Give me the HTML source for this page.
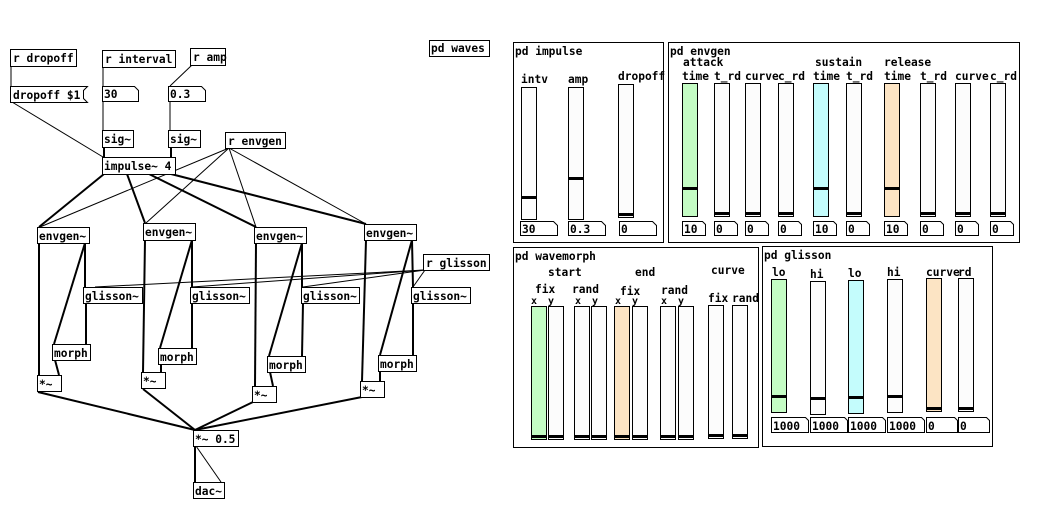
<!DOCTYPE html>
<html><head><meta charset="utf-8"><style>
html,body{margin:0;padding:0;background:#fff;}
svg{display:block;}
text{font-family:"DejaVu Sans Mono","Liberation Mono",monospace;font-weight:bold;font-size:11.2px;fill:#000;}
.b{fill:#fff;stroke:#000;stroke-width:1;}
.s{stroke:#000;stroke-width:2;fill:none;}
.c{stroke:#000;stroke-width:1;fill:none;}
.sl{fill:#fcfcfc;stroke:#000;stroke-width:1;}
</style></head><body>
<svg width="1043" height="515" viewBox="0 0 1043 515" xmlns="http://www.w3.org/2000/svg">
<g class="c">
<line x1="11" y1="66" x2="11" y2="86"/>
<line x1="12" y1="102" x2="103" y2="157"/>
<line x1="103" y1="67" x2="103" y2="86"/>
<line x1="103" y1="101" x2="103" y2="130"/>
<line x1="192" y1="65" x2="170" y2="86"/>
<line x1="170" y1="101" x2="170" y2="130"/>
<line x1="229" y1="148" x2="40" y2="227"/>
<line x1="229" y1="148" x2="146" y2="223"/>
<line x1="229" y1="148" x2="256" y2="227"/>
<line x1="229" y1="148" x2="366" y2="224"/>
<line x1="425" y1="270" x2="95" y2="287"/>
<line x1="425" y1="270" x2="192" y2="287"/>
<line x1="425" y1="270" x2="303" y2="287"/>
<line x1="425" y1="270" x2="413" y2="287"/>
<line x1="196" y1="446" x2="221" y2="482"/>
</g>
<g class="s">
<line x1="104" y1="147" x2="104" y2="157"/>
<line x1="171" y1="147" x2="171" y2="157"/>
<line x1="104" y1="174" x2="39" y2="227"/>
<line x1="127" y1="174" x2="145" y2="223"/>
<line x1="149" y1="174" x2="256" y2="227"/>
<line x1="171" y1="174" x2="366" y2="224"/>
<line x1="39" y1="243" x2="39" y2="375"/>
<line x1="85" y1="243" x2="85" y2="287"/>
<line x1="85" y1="243" x2="54" y2="344"/>
<line x1="86" y1="303" x2="86" y2="344"/>
<line x1="55" y1="360" x2="59" y2="375"/>
<line x1="145" y1="240" x2="143" y2="372"/>
<line x1="192" y1="240" x2="192" y2="287"/>
<line x1="192" y1="240" x2="160" y2="348"/>
<line x1="192" y1="303" x2="192" y2="348"/>
<line x1="161" y1="364" x2="161" y2="372"/>
<line x1="256" y1="243" x2="255" y2="386"/>
<line x1="302" y1="243" x2="302" y2="287"/>
<line x1="302" y1="243" x2="269" y2="356"/>
<line x1="303" y1="303" x2="302" y2="356"/>
<line x1="270" y1="372" x2="273" y2="386"/>
<line x1="366" y1="240" x2="362" y2="381"/>
<line x1="412" y1="240" x2="413" y2="287"/>
<line x1="412" y1="240" x2="380" y2="355"/>
<line x1="413" y1="303" x2="413" y2="355"/>
<line x1="380" y1="371" x2="380" y2="381"/>
<line x1="38" y1="392" x2="195" y2="430"/>
<line x1="143" y1="389" x2="195" y2="430"/>
<line x1="253" y1="402" x2="195" y2="430"/>
<line x1="362" y1="397" x2="195" y2="430"/>
<line x1="195" y1="446" x2="195" y2="482"/>
</g>
<g>
<rect class="b" x="10.5" y="49.5" width="66" height="17"/><text x="13" y="62">r dropoff</text>
<path class="b" d="M10.5 86.5H87.5L83.5 90.5V98.5L87.5 102.5H10.5Z"/><text x="13" y="99">dropoff $1</text>
<rect class="b" x="102.5" y="50.5" width="73" height="17"/><text x="105" y="63">r interval</text>
<path class="b" d="M102.5 86.5H134.5L138.5 90.5V101.5H102.5Z"/><text x="104" y="98">30</text>
<rect class="b" x="190.5" y="48.5" width="35" height="17"/><text x="193" y="61">r amp</text>
<path class="b" d="M168.5 86.5H201.5L205.5 90.5V101.5H168.5Z"/><text x="170" y="98">0.3</text>
<rect class="b" x="102.5" y="130.5" width="31" height="17"/><text x="104" y="143">sig~</text>
<rect class="b" x="168.5" y="130.5" width="32" height="17"/><text x="170" y="143">sig~</text>
<rect class="b" x="225.5" y="132.5" width="60" height="16"/><text x="228" y="145">r envgen</text>
<rect class="b" x="102.5" y="157.5" width="73" height="17"/><text x="104" y="170">impulse~ 4</text>
<rect class="b" x="429.5" y="40.5" width="60" height="16"/><text x="431" y="52">pd waves</text>
<rect class="b" x="37.5" y="227.5" width="52" height="16"/><text x="39" y="240">envgen~</text>
<rect class="b" x="143.5" y="223.5" width="52" height="17"/><text x="145" y="236">envgen~</text>
<rect class="b" x="254.5" y="227.5" width="52" height="16"/><text x="256" y="240">envgen~</text>
<rect class="b" x="364.5" y="224.5" width="52" height="16"/><text x="366" y="237">envgen~</text>
<rect class="b" x="423.5" y="254.5" width="66" height="16"/><text x="426" y="267">r glisson</text>
<rect class="b" x="83.5" y="287.5" width="59" height="16"/><text x="85" y="300">glisson~</text>
<rect class="b" x="190.5" y="287.5" width="59" height="16"/><text x="192" y="300">glisson~</text>
<rect class="b" x="301.5" y="287.5" width="58" height="16"/><text x="303" y="300">glisson~</text>
<rect class="b" x="411.5" y="287.5" width="59" height="16"/><text x="413" y="300">glisson~</text>
<rect class="b" x="52.5" y="344.5" width="38" height="16"/><text x="54" y="357">morph</text>
<rect class="b" x="158.5" y="348.5" width="38" height="16"/><text x="160" y="361">morph</text>
<rect class="b" x="267.5" y="356.5" width="38" height="16"/><text x="269" y="369">morph</text>
<rect class="b" x="378.5" y="355.5" width="38" height="16"/><text x="380" y="368">morph</text>
<rect class="b" x="37.5" y="375.5" width="24" height="16"/><text x="39" y="388">*~</text>
<rect class="b" x="141.5" y="372.5" width="24" height="16"/><text x="143" y="385">*~</text>
<rect class="b" x="252.5" y="386.5" width="24" height="16"/><text x="254" y="399">*~</text>
<rect class="b" x="360.5" y="381.5" width="24" height="16"/><text x="362" y="394">*~</text>
<rect class="b" x="193.5" y="430.5" width="45" height="16"/><text x="195" y="443">*~ 0.5</text>
<rect class="b" x="193.5" y="482.5" width="31" height="16"/><text x="195" y="495">dac~</text>
</g>
<rect class="b" x="513.5" y="42.5" width="150" height="200"/>
<text x="515" y="55">pd impulse</text>
<rect class="b" x="668.5" y="42.5" width="351" height="200"/>
<text x="670" y="55">pd envgen</text>
<rect class="b" x="513.5" y="247.5" width="245" height="200"/>
<text x="515" y="260">pd wavemorph</text>
<rect class="b" x="762.5" y="246.5" width="230" height="200"/>
<text x="764" y="259">pd glisson</text>
<g>
<text x="521" y="83">intv</text><text x="568" y="83">amp</text><text x="618" y="80">dropoff</text>
<rect class="sl" x="521.5" y="87.5" width="15" height="132"/><rect x="522" y="196" width="15" height="3"/>
<rect class="sl" x="568.5" y="87.5" width="15" height="132"/><rect x="569" y="177" width="15" height="3"/>
<rect class="sl" x="618.5" y="84.5" width="15" height="133"/><rect x="619" y="213" width="15" height="3"/>
<path class="b" d="M520.5 221.5H553.5L557.5 225.5V235.5H520.5Z"/><text x="522" y="233">30</text>
<path class="b" d="M568.5 221.5H601.5L605.5 225.5V235.5H568.5Z"/><text x="570" y="233">0.3</text>
<path class="b" d="M619.5 221.5H652.5L656.5 225.5V235.5H619.5Z"/><text x="621" y="233">0</text>
</g>
<g>
<text x="683" y="66">attack</text><text x="815" y="66">sustain</text><text x="884" y="66">release</text>
<text x="682" y="80">time</text><text x="714" y="80">t_rd</text><text x="745" y="80">curve</text><text x="778" y="80">c_rd</text>
<text x="813" y="80">time</text><text x="846" y="80">t_rd</text><text x="884" y="80">time</text><text x="920" y="80">t_rd</text>
<text x="955" y="80">curve</text><text x="990" y="80">c_rd</text>
<rect class="sl" style="fill:#c4fcc4" x="682.5" y="83.5" width="15" height="133"/><rect x="683" y="187" width="15" height="3"/>
<rect class="sl" x="714.5" y="83.5" width="15" height="133"/><rect x="715" y="212" width="15" height="3"/>
<rect class="sl" x="745.5" y="83.5" width="15" height="133"/><rect x="746" y="212" width="15" height="3"/>
<rect class="sl" x="778.5" y="83.5" width="15" height="133"/><rect x="779" y="212" width="15" height="3"/>
<rect class="sl" style="fill:#c4fcfc" x="813.5" y="83.5" width="15" height="133"/><rect x="814" y="187" width="15" height="3"/>
<rect class="sl" x="846.5" y="83.5" width="15" height="133"/><rect x="847" y="212" width="15" height="3"/>
<rect class="sl" style="fill:#fce4c4" x="884.5" y="83.5" width="15" height="133"/><rect x="885" y="187" width="15" height="3"/>
<rect class="sl" x="920.5" y="83.5" width="15" height="133"/><rect x="921" y="212" width="15" height="3"/>
<rect class="sl" x="955.5" y="83.5" width="15" height="133"/><rect x="956" y="212" width="15" height="3"/>
<rect class="sl" x="990.5" y="83.5" width="15" height="133"/><rect x="991" y="212" width="15" height="3"/>
<path class="b" d="M682.5 221.5H702.5L705.5 224.5V235.5H682.5Z"/><text x="684" y="233">10</text>
<path class="b" d="M714.5 221.5H734.5L737.5 224.5V235.5H714.5Z"/><text x="716" y="233">0</text>
<path class="b" d="M745.5 221.5H765.5L768.5 224.5V235.5H745.5Z"/><text x="747" y="233">0</text>
<path class="b" d="M778.5 221.5H798.5L801.5 224.5V235.5H778.5Z"/><text x="780" y="233">0</text>
<path class="b" d="M813.5 221.5H833.5L836.5 224.5V235.5H813.5Z"/><text x="815" y="233">10</text>
<path class="b" d="M846.5 221.5H866.5L869.5 224.5V235.5H846.5Z"/><text x="848" y="233">0</text>
<path class="b" d="M884.5 221.5H904.5L907.5 224.5V235.5H884.5Z"/><text x="886" y="233">10</text>
<path class="b" d="M920.5 221.5H940.5L943.5 224.5V235.5H920.5Z"/><text x="922" y="233">0</text>
<path class="b" d="M955.5 221.5H975.5L978.5 224.5V235.5H955.5Z"/><text x="957" y="233">0</text>
<path class="b" d="M990.5 221.5H1010.5L1013.5 224.5V235.5H990.5Z"/><text x="992" y="233">0</text>
</g>
<g>
<text x="548" y="276">start</text><text x="635" y="276">end</text><text x="711" y="274">curve</text>
<text x="535" y="293">fix</text><text x="572" y="293">rand</text><text x="620" y="295">fix</text><text x="661" y="294">rand</text>
<text x="708" y="302">fix</text><text x="732" y="302">rand</text>
<text x="531" y="304" style="font-size:10px">x</text><text x="548" y="304" style="font-size:10px">y</text>
<text x="575" y="304" style="font-size:10px">x</text><text x="592" y="304" style="font-size:10px">y</text>
<text x="615" y="304" style="font-size:10px">x</text><text x="632" y="304" style="font-size:10px">y</text>
<text x="661" y="304" style="font-size:10px">x</text><text x="678" y="304" style="font-size:10px">y</text>
<rect class="sl" style="fill:#c4fcc4" x="531.5" y="306.5" width="15" height="133"/><rect x="532" y="435" width="15" height="3"/>
<rect class="sl" x="548.5" y="306.5" width="15" height="133"/><rect x="549" y="435" width="15" height="3"/>
<rect class="sl" x="574.5" y="306.5" width="15" height="133"/><rect x="575" y="435" width="15" height="3"/>
<rect class="sl" x="591.5" y="306.5" width="15" height="133"/><rect x="592" y="435" width="15" height="3"/>
<rect class="sl" style="fill:#fce4c4" x="614.5" y="306.5" width="15" height="133"/><rect x="615" y="435" width="15" height="3"/>
<rect class="sl" x="632.5" y="306.5" width="15" height="133"/><rect x="633" y="435" width="15" height="3"/>
<rect class="sl" x="660.5" y="306.5" width="15" height="133"/><rect x="661" y="435" width="15" height="3"/>
<rect class="sl" x="678.5" y="306.5" width="15" height="133"/><rect x="679" y="435" width="15" height="3"/>
<rect class="sl" x="708.5" y="305.5" width="15" height="133"/><rect x="709" y="434" width="15" height="3"/>
<rect class="sl" x="732.5" y="305.5" width="15" height="133"/><rect x="733" y="434" width="15" height="3"/>
</g>
<g>
<text x="772" y="276">lo</text><text x="810" y="278">hi</text><text x="848" y="277">lo</text><text x="887" y="276">hi</text>
<text x="926" y="276">curve</text><text x="958" y="276">rd</text>
<rect class="sl" style="fill:#c4fcc4" x="771.5" y="279.5" width="15" height="133"/><rect x="772" y="395" width="15" height="3"/>
<rect class="sl" x="810.5" y="281.5" width="15" height="133"/><rect x="811" y="397" width="15" height="3"/>
<rect class="sl" style="fill:#c4fcfc" x="848.5" y="280.5" width="15" height="133"/><rect x="849" y="396" width="15" height="3"/>
<rect class="sl" x="887.5" y="279.5" width="15" height="133"/><rect x="888" y="395" width="15" height="3"/>
<rect class="sl" style="fill:#fce4c4" x="926.5" y="278.5" width="15" height="133"/><rect x="927" y="407" width="15" height="3"/>
<rect class="sl" x="958.5" y="278.5" width="15" height="133"/><rect x="959" y="407" width="15" height="3"/>
<path class="b" d="M771.5 417.5H805.5L808.5 420.5V432.5H771.5Z"/><text x="773" y="430">1000</text>
<path class="b" d="M810.5 417.5H844.5L847.5 420.5V432.5H810.5Z"/><text x="812" y="430">1000</text>
<path class="b" d="M848.5 417.5H882.5L885.5 420.5V432.5H848.5Z"/><text x="850" y="430">1000</text>
<path class="b" d="M887.5 417.5H921.5L924.5 420.5V432.5H887.5Z"/><text x="889" y="430">1000</text>
<path class="b" d="M926.5 417.5H954.5L957.5 420.5V432.5H926.5Z"/><text x="928" y="430">0</text>
<path class="b" d="M958.5 417.5H986.5L989.5 420.5V432.5H958.5Z"/><text x="960" y="430">0</text>
</g>
</svg>
</body></html>
